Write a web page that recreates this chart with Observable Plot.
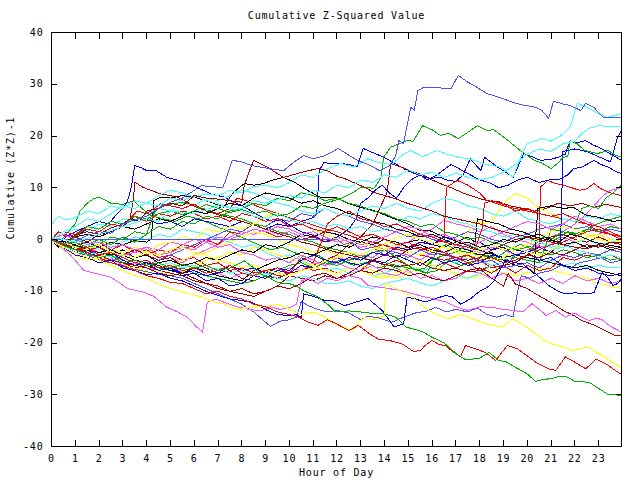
<!DOCTYPE html>
<html>
<head>
<meta charset="utf-8">
<script src="https://cdn.jsdelivr.net/npm/d3@7"></script>
<script src="https://cdn.jsdelivr.net/npm/@observablehq/plot@0.6"></script>
<style>
  html, body { margin: 0; padding: 0; background: #fff; }
  svg { display: block; }
</style>
</head>
<body>
<div id="chart"></div>
<script>
// ---------- text ----------
const chartTitle = "Cumulative Z-Squared Value";
const xLabel = "Hour of Day";
const yLabel = "Cumulative (Z*Z)-1";
const xTicks = [0,1,2,3,4,5,6,7,8,9,10,11,12,13,14,15,16,17,18,19,20,21,22,23];
const yTicks = [-40,-30,-20,-10,0,10,20,30,40];
const xDomain = [0, 23.96];
const yDomain = [-40, 40];

// ---------- series: [hour, cumulative value] ----------
const s01 = [[0,0],[0.5,-0.8],[1,-0.3],[1.5,0.8],[2,1.5],[2.5,1.2],[3,3],[3.5,3.8],[4,4.5],[4.5,6],[5,7.2],[5.5,8],[6,9.5],[6.3,10.4],[6.8,10.2],[7.2,10],[7.4,12.5],[7.6,15.3],[8,15],[8.4,14.3],[8.9,13.9],[9.3,13.6],[9.76,13.3],[10.2,15],[10.6,16.2],[11,15.6],[11.5,16.2],[11.9,17.2],[12.05,17.6],[12.5,16.3],[12.85,15.3],[13.3,14.5],[13.8,13.3],[14.2,14.2],[14.47,16.2],[14.6,19.1],[14.8,18.5],[15.1,25.5],[15.25,25],[15.4,28.8],[15.65,29.4],[16.2,29.3],[16.8,29.2],[17.1,31.7],[17.5,30.4],[17.75,29.8],[18.3,28.2],[18.8,27.5],[19.4,26.5],[19.8,26],[20.3,25.6],[20.6,25],[20.9,23.4],[21.1,26.7],[21.5,26.2],[21.8,25.9],[22.25,24.9],[22.45,26.3],[22.8,25.5],[23.2,23.6],[23.5,23.5],[23.96,23.6]];
const s02 = [[0,3],[0.3,4.5],[0.6,3.8],[1,4.2],[1.5,5.5],[2,5],[2.5,6.5],[3,6],[3.5,7.5],[4,7],[4.5,8.5],[5,9.5],[5.5,9],[6,8.2],[6.5,8.8],[7,8.5],[7.5,9.5],[8,9],[8.5,10.2],[9,10.5],[9.5,10],[10,11],[10.5,12.5],[11,12],[11.5,13.5],[12.15,14.7],[12.7,14],[13.3,15.6],[13.8,14.8],[14.3,14.5],[14.8,16.5],[15.1,17.2],[15.6,16],[16.2,17.2],[16.6,16.5],[17.1,15.9],[17.6,15.5],[18.3,14.5],[18.9,14],[19.4,12],[19.8,16.9],[20,18.5],[20.6,19.5],[21,19],[21.4,20],[21.8,21.7],[22.1,26.3],[22.5,25.6],[22.9,24.5],[23.35,23.6],[23.7,24],[23.96,24.3]];
const s03 = [[0,0.5],[1,-0.5],[2,1],[3,2.5],[4,4],[4.5,3.5],[5,5.5],[6,5],[7,6.5],[8,6],[8.5,7.5],[9,7],[10,8.5],[10.5,8],[11,9.5],[11.5,9],[12,10.5],[12.5,10],[13,11.5],[13.5,11],[14,12.5],[14.5,12],[15,13.5],[15.5,12.5],[16,13],[16.5,12],[17,12.8],[17.5,12],[18,11.5],[18.5,12],[19,13],[19.5,14.5],[20,16.5],[20.5,17.5],[21,17],[21.5,18.5],[22,19],[22.3,20.5],[22.6,21.5],[23,22],[23.5,21.8],[23.96,21.8]];
const s04 = [[0,0],[0.5,-1],[1,0.5],[1.5,2.5],[2,2],[2.5,3.5],[3,3],[3.5,4.5],[4,4],[4.5,5],[5,5.5],[5.5,4.8],[6,5.5],[6.5,6.8],[7,6],[7.5,5.2],[8,5.8],[8.5,5],[9,5.5],[9.5,4.5],[10,5],[10.5,6.5],[11,6],[11.5,7],[12.15,7.9],[12.7,9.1],[13,10.1],[13.55,9.9],[13.7,10.8],[13.85,12],[13.96,15.9],[14.25,17.8],[14.6,18.5],[14.95,19.1],[15.2,19],[15.6,22],[16,21.2],[16.35,20.1],[16.7,20.5],[17.1,19.5],[17.5,20.7],[17.9,22],[18.3,21.1],[18.6,21.2],[19.2,19.1],[19.7,17.2],[20.3,15.3],[20.6,14.8],[21,13.7],[21.3,14.8],[21.5,15.9],[21.7,16],[21.8,19.1],[22.1,18.5],[22.4,17.2],[22.95,16.6],[23.4,17.2],[23.7,16.3],[23.96,15.9]];
const s05 = [[0,0],[0.5,1],[1,0.5],[1.5,2],[2,1.5],[2.5,3],[3,2.5],[3.5,4.5],[4,4],[4.5,3],[5,3.5],[5.5,2.5],[6,4],[6.5,3.5],[7,3],[7.5,2.5],[8,3.5],[8.5,2.8],[9,2],[9.5,3],[10,2.5],[10.5,3.5],[11,4.2],[11.15,5],[11.25,13.3],[11.45,14.9],[11.8,14.6],[12.15,14.7],[12.5,14.5],[12.85,14],[13.1,17.6],[13.5,16.8],[13.96,15.9],[14.4,14.8],[14.95,13.3],[15.4,12.5],[15.9,11.8],[16.35,12],[16.6,11.5],[17,11.2],[17.3,12.5],[17.6,15.6],[18.05,13.3],[18.2,15.9],[18.75,14],[19.1,13],[19.4,12],[19.6,14],[19.85,16.6],[20.2,16],[20.55,15.3],[21,15.5],[21.3,15.9],[21.6,16.5],[21.8,19.1],[22.1,18.7],[22.45,19.1],[22.8,18.2],[23.1,17.6],[23.5,16.5],[23.96,15.3]];
const s06 = [[0,0],[0.3,-1],[0.6,0.5],[1,1.5],[1.5,2.5],[2,3.5],[2.4,3],[2.76,5],[3,6],[3.2,7.5],[3.35,10],[3.5,14.3],[3.8,13.8],[4,13.3],[4.4,13.3],[4.85,12],[5.2,11.6],[5.55,11.1],[6.1,10.1],[6.7,8.8],[7.25,8.2],[7.6,7.3],[8,6.6],[8.5,5.2],[9,4],[9.3,3.5],[9.7,3.8],[10,2.8],[10.5,1.5],[11,0.8],[11.5,-0.5],[12,0.5],[12.5,2],[12.8,4],[13,7],[13.3,8],[13.6,9.5],[13.9,10.5],[14.2,9],[14.5,8],[14.8,10],[15.1,11.5],[15.5,12.5],[15.8,11.5],[16.2,12.5],[16.5,13.5],[16.8,14.5],[17.2,13.5],[17.6,12.5],[18,11.5],[18.4,11],[18.8,10],[19.2,10.5],[19.6,11.5],[20,12],[20.5,11],[20.9,11.5],[21.3,11.5],[21.7,12.5],[21.95,13.7],[22.3,14],[22.8,15.3],[23.1,14.5],[23.4,14],[23.7,13.2],[23.96,12.7]];
const s07 = [[0,0],[0.5,-1.5],[1,-2.5],[1.5,-2],[2,-3.5],[2.5,-3],[3,-4.5],[3.5,-4],[4,-5],[4.5,-4.5],[5,-5.5],[5.5,-6.5],[6,-6],[6.5,-7],[7,-6.5],[7.5,-5],[8,-6],[8.5,-5.5],[9,-6.5],[9.5,-5.5],[10,-6],[10.5,-4],[11,-3],[11.5,-4],[12,-3.5],[12.5,-4.5],[13,-5],[13.5,-4],[14,-4.5],[14.5,-3],[15,-4],[15.5,-5],[16,-3.5],[16.5,-4.5],[17,-4],[17.5,-5],[18,-4.5],[18.5,-3],[19,-3.5],[19.5,-2],[20,-2.5],[20.5,-1.5],[21,-2.5],[21.4,-0.5],[21.5,17],[22,17.5],[22.5,17],[23,16],[23.5,15],[23.8,19.8],[23.96,21]];
const s08 = [[0,0],[0.5,-1],[1,0.8],[1.5,1.5],[2,1],[2.5,2.2],[3,3],[3.3,4],[3.7,3.5],[4,5.5],[4.5,6],[5,7],[5.5,6.5],[6,8.5],[6.5,8],[7,7.8],[7.5,7.5],[8,7.2],[8.1,10.4],[8.3,13],[8.5,15.3],[8.8,14.6],[9.07,14],[9.4,13],[9.76,12],[10.3,12.7],[10.7,13.2],[11.2,13.7],[11.6,13.3],[12,12.2],[12.3,11.8],[12.8,10.8],[13.2,10],[13.55,9.1],[14,8.5],[14.5,7.8],[14.95,7],[15.5,6.2],[16,5.5],[16.5,4.5],[17,4],[17.5,3.5],[18,3],[18.5,2.2],[19,1.5],[19.5,1],[20,0.5],[20.5,0],[21,-0.5],[21.5,-1],[22,-1.5],[22.5,-1.8],[23,-1],[23.5,-1.5],[23.96,-2]];
const s09 = [[0,0],[0.5,-0.5],[1,0.5],[1.5,-0.5],[2,1],[2.5,1.5],[3,2.5],[3.3,4],[3.45,8],[3.5,11.1],[3.8,10.2],[4,9.8],[4.6,8.8],[5.3,8.2],[5.7,7.2],[6.1,6.2],[6.5,5.5],[7,4.8],[7.5,4.2],[8,3.5],[8.5,2.8],[9,2],[9.5,1.2],[10,0.5],[10.5,-0.5],[11,-1],[11.5,-1.8],[12,-2.5],[12.5,-3],[13,-3.5],[13.5,-4.2],[14,-4.8],[14.5,-5.2],[15,-5],[15.5,-4.5],[16,-5.5],[16.5,-6],[17,-5.5],[17.5,-6.2],[18.1,-6],[18.5,-7.5],[19,-9],[19.2,-6.6],[19.5,-8.6],[20,-9.5],[20.35,-10.5],[21,-12.2],[21.5,-13.7],[22,-14.8],[22.3,-15.7],[22.8,-16.5],[23.15,-17.3],[23.7,-18.6],[23.96,-18.6]];
const s10 = [[0,0],[0.5,-1.2],[1,-2],[1.5,-2.8],[2,-3.5],[2.5,-3],[3,-4.5],[3.5,-4],[4,-5],[4.5,-4.5],[5,-5.5],[5.5,-4.8],[6,-5.5],[6.5,-5],[7,-6],[7.5,-5.5],[8.1,-4.1],[8.5,-5.5],[8.77,-6.6],[9.2,-7.5],[9.5,-8.3],[9.8,-8.5],[10.05,-8.6],[10.3,-9],[10.6,-9.9],[11.2,-11.1],[11.6,-12.5],[11.94,-14],[12.5,-13.8],[13,-14],[13.5,-14.3],[14,-14.4],[14.47,-15],[14.9,-16.9],[15.2,-17.3],[15.6,-17.8],[16,-18.9],[16.5,-20],[17.1,-22.4],[17.4,-23.2],[17.97,-23],[18.4,-21.8],[18.8,-23.4],[19.1,-23.6],[19.5,-24.7],[20,-26],[20.35,-27.4],[20.7,-27],[21.05,-26.9],[21.3,-26.5],[21.6,-26.4],[22,-27.4],[22.6,-27.6],[22.9,-28.5],[23.15,-29.2],[23.4,-30],[23.7,-30],[23.96,-30.2]];
const s11 = [[0,0],[0.5,-1],[1,-2],[1.5,-2.5],[2,-3.5],[2.5,-4.5],[3,-5],[3.5,-6],[4,-7],[4.5,-7.5],[5,-8.3],[5.5,-8.5],[6,-9.5],[6.5,-10.5],[7,-10],[7.5,-11],[8,-11.5],[8.5,-12.5],[9,-13],[9.5,-14],[10,-14.5],[10.4,-15],[10.8,-16],[11.2,-16.6],[11.6,-15.5],[11.94,-16.2],[12.5,-17.6],[12.9,-16.6],[13.3,-18],[13.75,-19.3],[14.2,-19.5],[14.75,-20.2],[15.2,-21.6],[15.5,-21.5],[15.7,-20.5],[16,-19.5],[16.3,-20.3],[16.57,-20.5],[16.9,-21.8],[17.2,-22.6],[17.4,-20.5],[17.96,-21.3],[18.3,-22],[18.67,-23.4],[18.9,-22],[19.16,-20.5],[19.58,-21.1],[20,-22.5],[20.35,-23.7],[20.9,-25],[21.2,-25.3],[21.6,-22.7],[22,-23.7],[22.46,-25],[22.88,-23.1],[23.4,-24.3],[23.7,-25.3],[23.96,-26.1]];
const s12 = [[0,0],[0.5,-1.5],[1,-2.5],[1.5,-3.5],[2,-4],[2.5,-5],[3,-6],[3.5,-7],[4,-7.5],[4.2,-7.9],[4.7,-9],[5.3,-9.9],[5.8,-10.5],[6.3,-11.1],[6.8,-12],[7.3,-12.5],[7.8,-13.5],[8.4,-13.1],[9,-13],[9.5,-12.5],[10,-13.5],[10.5,-14.5],[11,-14],[11.5,-15],[12,-16.5],[12.65,-17.6],[12.9,-16],[13.2,-15],[13.6,-15.5],[14,-14.7],[14.05,-8.5],[14.5,-9.5],[15.2,-11.1],[15.5,-12.5],[15.85,-13.7],[16.2,-14.5],[16.7,-15.3],[17.2,-14.5],[17.8,-15.5],[18.4,-16.5],[18.95,-16.9],[19.4,-15.3],[20,-17],[20.35,-18.2],[20.7,-19.5],[21.05,-20.2],[21.5,-20.8],[21.9,-21.5],[22.3,-21],[22.6,-20.8],[22.9,-21.8],[23.15,-22.4],[23.5,-23.5],[23.96,-24.8]];
const s13 = [[0,0],[0.4,-1.5],[0.8,-3],[1.36,-6],[1.8,-6.5],[2.5,-7.3],[2.9,-8.5],[3.2,-9.5],[3.9,-10.2],[4.3,-11],[4.85,-13.1],[5.3,-14],[5.7,-15],[6.1,-16.9],[6.35,-17.9],[6.55,-12.1],[6.9,-11.5],[7.3,-12.2],[7.8,-13],[8.3,-13.5],[8.8,-13.8],[9.2,-13],[9.6,-13.5],[10,-13.2],[10.3,-12.5],[10.5,-8],[10.8,-7.5],[11.2,-8.5],[11.6,-7.5],[12,-8],[12.5,-7],[13,-7.5],[13.3,-8.9],[13.75,-9.2],[14.2,-9.5],[14.75,-9.9],[15.2,-10.5],[15.7,-11.1],[16.1,-11.5],[16.6,-12.1],[17,-13],[17.5,-13.7],[18,-13],[18.5,-13.1],[19,-13.5],[19.4,-13.7],[19.8,-14],[20.2,-12.4],[20.5,-13.5],[20.8,-14.7],[21.2,-13.7],[21.6,-15],[22,-14.2],[22.3,-15],[22.6,-15.7],[22.9,-15.2],[23.15,-15.5],[23.5,-16.8],[23.96,-17.9]];
const s14 = [[0,0],[0.5,-1.5],[1,-3],[1.5,-3.5],[2,-4.5],[2.5,-4],[3,-5.5],[3.5,-6],[4,-6.8],[4.5,-6.5],[5,-7.5],[5.5,-8],[6,-9],[6.5,-10],[7,-10.8],[7.5,-11.5],[8,-11.8],[8.4,-12.1],[9.07,-13.7],[9.5,-14.5],[10.05,-14.7],[10.3,-14.5],[10.5,-15],[10.6,-10.5],[11,-11],[11.5,-11.8],[11.94,-11.9],[12.3,-12.8],[12.8,-12.1],[13.3,-11.4],[13.9,-13.7],[14.4,-16.9],[14.8,-16.3],[14.95,-11.1],[15.3,-11.5],[15.7,-12.1],[16.15,-11.4],[16.57,-10.8],[16.85,-11.1],[17.2,-12.5],[17.6,-11.5],[18,-10],[18.4,-9],[18.6,-8],[18.9,-5.5],[19.1,-4],[19.5,-4.5],[19.8,-4.7],[20.1,-5.8],[20.35,-6.6],[20.9,-8.9],[21.3,-10],[21.6,-10.5],[22,-10.3],[22.4,-10.5],[22.8,-10.3],[23,-8],[23.15,-6.3],[23.4,-7.5],[23.6,-8.9],[23.8,-8.5],[23.96,-7.6]];
const s15 = [[0,0],[0.5,-1.5],[1,-2.5],[1.5,-3],[2,-4],[2.5,-4.5],[3,-5.2],[3.5,-5.8],[4,-6.2],[4.5,-6.8],[5,-7],[5.5,-7.5],[6,-8.5],[6.5,-9.5],[7,-10.5],[7.5,-11.5],[8,-12.5],[8.5,-14],[9.2,-16.8],[9.6,-15.8],[10,-15.5],[10.3,-15],[10.5,-12],[10.8,-12.8],[11.2,-13.5],[11.6,-14],[12,-13.7],[12.5,-14.2],[13,-15.5],[13.3,-14.8],[13.8,-15.2],[14.3,-16],[14.8,-15],[15.3,-14.2],[15.8,-13.8],[16.15,-13.1],[16.6,-14],[17,-13.5],[17.5,-14],[17.9,-13.2],[18.3,-14.5],[18.7,-15],[19.1,-14.5],[19.4,-15],[19.6,-9.9],[19.75,-7],[20.1,-7.5],[20.5,-6.5],[21,-6],[21.4,-5],[21.8,-5.5],[22.2,-4.5],[22.7,-4],[23.1,-3.5],[23.5,-4.5],[23.96,-4]];
const s16 = [[0,0],[12,0],[12.3,-1],[12.6,-0.5],[13,-2],[13.5,-1.5],[14,-3],[14.5,-2.5],[15,-3.5],[15.5,-2],[16,-3],[16.5,-2.5],[17,-4],[17.5,-3],[18,-4.5],[18.5,-4],[19,-5.5],[19.5,-5],[20,-4.5],[20.5,-5.5],[21,-4],[21.5,-3],[22,-3.5],[22.5,-2.5],[23,-3],[23.5,-2],[23.96,-2.5]];
const s17 = [[0,0],[0.5,1],[1,0.5],[1.5,-1],[2,-0.5],[2.5,-2],[3,-1],[3.5,-2.5],[4,-2],[4.5,-3.5],[5,-3],[5.5,-4],[6,-3.5],[6.5,-5],[7,-4.5],[7.5,-6],[8,-5.5],[8.5,-6.5],[9,-6],[9.5,-7],[10,-6.5],[10.5,-5],[11,-6],[11.5,-5.5],[12,-6.5],[12.5,-5.5],[13,-6],[13.5,-4],[14,-5],[14.5,-4],[15,-5],[15.5,-4.5],[16,-5.5],[16.5,-4.5],[17,-5.5],[17.5,-4.5],[18,-6],[18.5,-5],[19,-5.5],[19.5,-3],[20,-2],[20.5,-1.5],[20.55,10.1],[20.85,11.4],[21.2,10.8],[21.5,10.5],[21.8,10.1],[22.2,9.5],[22.5,9.8],[22.8,10.8],[23.1,9.8],[23.5,9],[23.96,8.5]];
const s18 = [[0,0],[0.5,-1],[1,-0.5],[1.5,-2],[2,-1.5],[2.5,-3],[3,-2],[3.5,-3.5],[4,-3],[4.5,-2],[5,-2.5],[5.5,-1],[6,-1.5],[6.5,0],[7,-1],[7.5,1.5],[8,1],[8.5,2],[9,1.5],[9.5,0.5],[10,1],[10.5,0],[11,0.5],[11.5,-0.5],[12,0],[12.5,-1],[13,-0.5],[13.5,-1.5],[14,-1],[14.5,-2],[15,-1.5],[15.5,-0.5],[16,-1],[16.5,0],[16.6,10.1],[17.06,11.4],[17.5,10.5],[18,9],[18.3,7.5],[18.7,7],[19,6.5],[19.5,6],[20,5.5],[20.5,5],[21,4.5],[21.5,4],[22,3.5],[22.5,3],[23,1.5],[23.5,1],[23.96,0]];
const s19 = [[0,0],[0.3,1.5],[0.6,0.5],[1,1],[1.5,2],[2,1.5],[2.5,3],[3,2.5],[3.3,4],[3.6,5.5],[4,5],[4.6,6.9],[5,6.5],[5.5,6],[6,6.8],[6.5,5.5],[7,5],[7.5,6],[7.8,8],[8.2,7.5],[8.6,6.5],[9,5.8],[9.5,5],[10,4.2],[10.5,3.5],[11,2.8],[11.5,2],[12,1.5],[12.5,0.8],[13,0],[13.5,-0.5],[14,-1.2],[14.5,-1.8],[15,-2.5],[15.5,-3],[16,-3.5],[16.5,-4],[17,-3.5],[17.5,-4.5],[18,-4],[18.5,-5.5],[19,-5],[19.5,-6.5],[20,-5],[20.5,-6],[21,-5.5],[21.5,-3.5],[22,-4],[22.5,-3],[23,-3.5],[23.5,-3],[23.96,-4]];
const s20 = [[0,0],[0.5,-1],[1,-2],[1.5,-1.5],[2,-3],[2.5,-2.5],[3,-3.5],[3.5,-4.5],[4,-4],[4.5,-5.5],[5,-5],[5.5,-6],[6,-5.5],[6.5,-6.5],[7,-6],[7.5,-5],[8,-6.5],[8.5,-7],[9,-6],[9.5,-5.5],[10,-6.5],[10.5,-3.5],[11,-4.5],[11.3,-1],[11.6,3],[12,4.5],[12.5,5.5],[13,4],[13.5,3.5],[14,2.5],[14.5,3],[15,2],[15.5,1],[16,0.5],[16.5,-0.5],[17,-1],[17.5,-1.5],[17.8,-2],[18.1,2],[18.2,7],[18.5,7.5],[19,6.8],[19.5,5.5],[20,6],[20.5,5],[21,4.5],[21.5,5],[22,4],[22.5,3],[23,2.5],[23.5,1.5],[23.96,0.5]];
const s21 = [[0,0],[0.3,-1],[0.6,1],[1,3],[1.2,5.5],[1.5,7],[1.77,7.9],[2,8.2],[2.5,7],[3,6.8],[3.45,7.5],[3.8,6],[4.2,4.6],[4.7,4],[5.2,3.5],[5.7,4.5],[6.2,4],[6.7,3],[7.2,2],[7.7,1],[8.2,0],[8.7,-1],[9.2,-2],[9.7,-1.5],[10.2,-2.5],[10.7,-3.5],[11.2,-3],[11.7,-4.5],[12.2,-4],[12.7,-5],[13.2,-4.5],[13.7,-5.5],[14.2,-5],[14.7,-6],[15.2,-5.5],[15.7,-6.5],[16.2,-6],[16.7,-4],[17.2,-5],[17.7,-4.5],[18.2,-3],[18.7,-3.5],[19.2,-2],[19.7,-1],[20.2,-1.5],[20.7,0.5],[21.2,0],[21.7,1.5],[22.2,1],[22.7,2.5],[23.2,3.5],[23.6,4],[23.96,4.5]];
const s22 = [[0,0],[0.5,-0.5],[1,0.5],[1.5,-1],[2,0],[2.5,-1],[3,0.5],[3.5,-0.5],[4,1],[4.3,5],[4.6,6.5],[5,6.8],[5.5,7.2],[6,6.5],[6.5,5.8],[7,5],[7.5,4.5],[8,4],[8.5,3],[9,2.5],[9.5,1.5],[10,1],[10.5,0],[11,-0.5],[11.5,-1.5],[12,-2],[12.5,-2.5],[13,-3.5],[13.5,-4],[14,-4.5],[14.5,-5],[15,-5.5],[15.5,-6],[15.8,-6.5],[16,-4],[16.3,-1.5],[16.6,-1],[17,-2],[17.5,-2.5],[18,-3],[18.5,-3.5],[19,-4],[19.5,-3.5],[20,-4],[20.5,-4.5],[20.8,-1],[21,2],[21.5,1.5],[22,3],[22.3,6],[22.6,6.5],[23,6],[23.3,8],[23.6,9],[23.96,10.5]];
const s23 = [[0,0],[0.5,-1],[1,-1.5],[1.5,-2],[2,-1.5],[2.5,-3],[3,-2.5],[3.5,-3.5],[4,-3],[4.5,-4],[5,-3.5],[5.5,-4.5],[6,-3],[6.5,-2],[7,-1],[7.5,0.5],[8,1.5],[8.5,1],[9,2],[9.5,1],[10,1.5],[10.5,0.5],[11,1],[11.5,-0.5],[12,0.5],[12.5,-0.5],[13,-1.5],[13.5,-1],[14,-2],[14.5,-1.5],[15,-0.5],[15.5,1],[16,2],[16.5,3.7],[17,3],[17.5,2.5],[18,1.5],[18.5,2.5],[19,1],[19.5,0],[20,-0.5],[20.5,-1.5],[21,-1],[21.5,0.5],[22,-0.5],[22.5,0.5],[23,1],[23.5,2],[23.96,1.5]];
const s24 = [[0,0],[0.5,-1.5],[1,-2.5],[1.5,-3],[2,-4],[2.5,-3.5],[3,-5],[3.5,-4.5],[4,-5.5],[4.5,-6],[5,-5],[5.5,-6.5],[6,-6],[6.5,-7],[7,-6.5],[7.5,-7.5],[8,-6.5],[8.5,-7],[9,-6],[9.5,-6.5],[10,-5.5],[10.5,-6],[11,-4.5],[11.5,-5],[12,-3.5],[12.5,-4],[13,-3],[13.5,-3.5],[14,-2],[14.5,-2.5],[15,-3],[15.5,-4],[16,-2.5],[16.5,-3],[17,-1],[17.5,-2],[18,-2.5],[18.5,-1.5],[19,-2],[19.5,-3],[20,-2],[20.5,-1],[21,0.5],[21.5,1.5],[22,3],[22.5,5],[22.8,6.5],[23.2,8.5],[23.5,9.5],[23.96,10]];
const s25 = [[0,0],[0.5,-1],[1,-2],[1.5,-1.5],[2,-2.5],[2.5,-2],[3,-3],[3.5,-2.5],[4,-1.5],[4.5,-2],[5,-0.5],[5.5,-1],[6,0],[6.5,-0.5],[7,-1.5],[7.5,-1],[8,-2.5],[8.5,-3],[9,-4],[9.5,-3.5],[10,-4.5],[10.5,-3],[11,-4],[11.5,-5],[12,-4.5],[12.5,-5.5],[13,-6],[13.5,-5],[14,-6.5],[14.5,-7],[15,-6],[15.5,-7.5],[16,-7],[16.5,-8],[17,-7.5],[17.5,-6],[18,-6.5],[18.5,-7.5],[19,-6.5],[19.5,-8],[20,-7.5],[20.5,-8.5],[21,-7.5],[21.5,-8.5],[22,-7],[22.5,-8],[23,-7.5],[23.5,-8.5],[23.96,-8]];
const s26 = [[0,0],[0.5,-0.5],[1,-1.5],[1.5,-1],[2,-2],[2.5,-1.5],[3,-0.5],[3.5,0.5],[4,0],[4.5,1],[5,0.5],[5.5,2],[6,1.5],[6.5,1],[7,0],[7.5,-0.5],[8,-1.5],[8.5,-1],[9,-2.5],[9.5,-3.5],[10,-3],[10.5,-4],[11,-5],[11.5,-6],[12,-5.5],[12.5,-6.5],[13,-6],[13.5,-7],[14,-6.5],[14.5,-5.5],[15,-5],[15.5,-6],[16,-5.5],[16.5,-4],[17,-4.5],[17.5,-3.5],[18,-4],[18.5,-5],[19,-4.5],[19.5,-3],[20,-3.5],[20.5,-4.5],[21,-4],[21.5,-5],[22,-4.5],[22.5,-5.5],[23,-5],[23.5,-5.5],[23.96,-5.3]];
const s27 = [[0,0],[0.5,1],[1,2],[1.5,1.5],[2,3],[2.5,2.5],[3,4],[3.5,3.5],[4,5],[4.5,6],[5,5.5],[5.5,7],[6,6.5],[6.5,8],[7,7.5],[7.5,8.5],[8,9.5],[8.5,9],[9,8],[9.5,7],[10,6.5],[10.5,5.5],[11,5],[11.5,6],[12,5],[12.5,4.5],[13,5.5],[13.5,6.5],[14,6],[14.5,7],[15,6],[15.5,5.5],[16,7],[16.5,8],[17,7.5],[17.5,6.5],[18,6],[18.5,5],[19,4.5],[19.5,5.5],[20,4],[20.5,3.5],[21,3],[21.5,4],[22,3.5],[22.5,4.5],[23,4],[23.5,5],[23.96,4.5]];
const s28 = [[0,0],[0.5,-1.5],[1,-2],[1.5,-3],[2,-2.5],[2.5,-3.5],[3,-3],[3.5,-4],[4,-4.5],[4.5,-5],[5,-4.5],[5.5,-5.5],[6,-5],[6.5,-6],[7,-5.5],[7.5,-6.5],[8,-6],[8.5,-7],[9,-6.5],[9.5,-7.5],[10,-8],[10.5,-7],[11,-7.5],[11.5,-8.5],[12,-8.5],[12.5,-8],[13,-9],[13.5,-9.5],[14,-8.5],[14.5,-8],[15,-7.5],[15.2,-7.9],[15.6,-8.5],[16,-9],[16.5,-8],[17,-7],[17.5,-7.5],[18,-6.5],[18.5,-5],[19,-4.5],[19.5,-3],[20,-2.5],[20.5,-3],[21,-2],[21.5,-1.5],[22,-0.5],[22.5,0],[23,-1],[23.5,-0.5],[23.96,0]];
const s29 = [[0,0],[0.5,-1],[1,-0.5],[1.5,-2],[2,-1.5],[2.5,-2.5],[3,-3],[3.5,-2],[4,-3],[4.5,-4],[5,-3.5],[5.5,-5],[6,-4.5],[6.5,-5.5],[7,-6.5],[7.5,-6],[8,-7.5],[8.5,-8],[9,-7],[9.5,-7.5],[10,-6.5],[10.5,-6],[11,-5],[11.5,-4],[12,-3],[12.5,-1],[13,0.5],[13.5,3],[13.8,6],[14.1,9],[14.26,14.7],[14.7,14],[15.1,13.2],[15.6,12.5],[16,11.5],[16.35,10.8],[16.8,10],[17.3,9],[17.8,8.2],[18.3,7.5],[18.8,7.3],[19.3,6.5],[19.8,6],[20.3,5.5],[20.8,6],[21.3,7],[21.8,6.5],[22.3,7],[22.8,6.2],[23.3,6.8],[23.96,6.2]];
const s30 = [[0,0],[0.5,-1.5],[1,-2.5],[1.5,-3.5],[2,-3],[2.5,-4],[3,-4.5],[3.5,-5.5],[4,-5],[4.5,-6],[5,-6.5],[5.5,-7],[6,-8],[6.5,-8.5],[7,-9.5],[7.5,-10],[8,-10.5],[8.5,-11],[9,-10],[9.5,-9],[10,-7],[10.5,-7.5],[11,-8],[11.5,-7],[12,-7.5],[12.5,-6.5],[13,-5],[13.5,-4],[14,-3],[14.5,-3.5],[15,-2],[15.5,-1.5],[16,-2.5],[16.5,-3],[17,-3.5],[17.5,-4],[18,-3.5],[18.5,-2],[19,-1],[19.5,0],[20,0.5],[20.5,-0.5],[21,0.5],[21.5,1],[22,0],[22.5,-0.5],[23,0.5],[23.5,-0.5],[23.96,-0.5]];
const s31 = [[0,0],[0.5,-1],[1,-2],[1.5,-2.5],[2,-3.5],[2.5,-4],[3,-4.5],[3.5,-5.5],[4,-6],[4.5,-5],[5,-5.5],[5.5,-4],[6,-3],[6.5,-2.5],[7,-1.5],[7.5,-0.5],[8,0.5],[8.5,1.5],[9,1],[9.5,0],[10,-1],[10.5,-1.5],[11,-2.5],[11.5,-2],[12,-3],[12.5,-4],[13,-5],[13.5,-6],[14,-7],[14.5,-7.5],[15,-6.5],[15.5,-5],[16,-4],[16.5,-3],[17,-1],[17.5,1],[17.8,3.5],[18.2,3],[18.6,4],[19,7],[19.5,8.9],[20,8],[20.5,6],[21,5],[21.5,4],[22,3.5],[22.5,4.5],[23,4],[23.5,5],[23.96,4.5]];
const s32 = [[0,0],[0.5,-1.5],[1,-2.5],[1.5,-3],[2,-3.5],[2.5,-4.5],[3,-5],[3.5,-5.5],[4,-6.5],[4.5,-6],[5,-7],[5.5,-6.5],[6,-5],[6.5,-4],[7,-3.5],[7.5,-2.5],[8,-3],[8.5,-1.5],[9,-2],[9.5,-3],[10,-3.5],[10.5,-4.5],[11,-5],[11.5,-6],[12,-6.5],[12.5,-5.5],[13,-6],[13.5,-7],[14,-7.5],[14.5,-6.5],[15,-5.5],[15.5,-4],[16,-5],[16.5,-6],[17,-6.5],[17.5,-7.5],[18,-7],[18.5,-6],[19,-6.5],[19.5,-7],[20,-6.5],[20.5,-5.5],[21,-6],[21.5,-6.5],[22,-7],[22.5,-7.5],[23,-8.5],[23.5,-9],[23.96,-9.5]];
const s33 = [[0,0],[0.5,-2],[1,-3],[1.5,-4],[2,-3.5],[2.5,-2],[3,-2.5],[3.5,-1.5],[4,-2.5],[4.5,-1],[5,-0.5],[5.5,0.5],[6,0],[6.5,2],[7,1.5],[7.5,2.5],[8,2],[8.5,3],[9,4.5],[9.5,5],[10,4],[10.5,3],[11,2],[11.5,1],[12,0],[12.5,-1],[13,-0.5],[13.5,-1.5],[14,-2],[14.5,-1],[15,-2.5],[15.5,-3],[16,-2],[16.5,-1.5],[17,-2.5],[17.5,-3.5],[18,-3],[18.5,-4],[19,-3.5],[19.5,-2],[20,-1],[20.5,0.5],[21,1.5],[21.5,2.5],[22,2],[22.5,1],[23,0],[23.5,-0.5],[23.96,-1]];
const s34 = [[0,0],[0.5,-1],[1,-1.2],[1.5,-0.5],[2,-1.5],[2.5,-0.5],[3,-1],[3.5,-0.2],[4,-0.5],[4.2,0.2],[4.3,7.5],[4.6,8.2],[5,8],[5.5,8.5],[6,8.2],[6.7,7.2],[7.25,6.2],[7.6,8.9],[8.1,10.8],[8.5,10.5],[8.9,10.8],[9.3,11.5],[9.76,12],[10.2,11.1],[10.75,9.5],[11.3,8.2],[11.9,8.2],[12.45,7],[13,6.2],[13.55,5.6],[14.25,4.3],[14.95,3.1],[15.5,1.7],[15.9,1.7],[16.35,0.8],[16.8,0],[17.3,-0.8],[18,-2.1],[18.5,-2.8],[19,-3.5],[19.5,-3],[20,-3.5],[20.5,-4],[21,-4.5],[21.5,-5],[22,-5.5],[22.5,-5],[23,-6],[23.5,-6.5],[23.96,-7]];
const s35 = [[0,0],[0.3,-1.5],[0.6,-1],[1,-2],[1.5,-1.5],[2,-2.5],[2.5,-3],[3,-2],[3.5,-3.5],[4,-3],[4.5,-4.5],[5,-4],[5.5,-5],[6,-4.5],[6.5,-3.5],[7,-4],[7.5,-3],[8,-2],[8.5,-2.5],[9,-1],[9.5,-1.5],[10,-0.5],[10.5,1],[11,0.5],[11.5,1.5],[12,1],[12.5,0],[13,-0.5],[13.5,-1],[14,0],[14.5,-0.5],[15,-1.5],[15.5,-1],[16,-2],[16.5,-2.5],[17,-1.5],[17.5,-2],[18,-3],[18.5,-2.5],[19,-4],[19.5,-5],[20,-5.5],[20.3,-6.6],[20.35,0.5],[20.45,6],[21,6.5],[21.5,6],[21.95,6.2],[22.5,4.6],[22.8,4.5],[23.2,4],[23.6,3.5],[23.96,3.7]];
const s36 = [[0,0],[0.5,-0.5],[1,-1],[1.5,-2],[2,-2.5],[2.5,-2],[3,-3],[3.5,-4],[4,-4.5],[4.5,-5],[5,-6],[5.5,-6.5],[6,-5.5],[6.5,-6],[7,-7],[7.5,-7.5],[8,-8],[8.5,-6],[9,-5],[9.5,-4],[10,-3.5],[10.5,-2.5],[11,-3],[11.5,-2],[12,-1],[12.5,-1.5],[13,-0.5],[13.5,0.5],[14,0],[14.5,-1],[15,-0.5],[15.5,0],[16,-1],[16.5,-1.5],[17,-0.5],[17.5,0.5],[17.8,-0.5],[17.9,4],[18.3,3.5],[18.8,3],[19.3,2],[19.8,1.5],[20.3,0.5],[20.8,0],[21.3,-0.5],[21.8,1],[22.3,0.5],[22.8,-0.5],[23.3,-1],[23.96,-1.5]];
const s37 = [[0,0],[0.5,-1],[1,-2.5],[1.5,-2],[2,-3],[2.5,-4],[3,-3.5],[3.5,-4.5],[4,-5],[4.5,-4],[5,-3],[5.5,-2],[6,-1],[6.5,0],[7,1],[7.5,2],[8,1.5],[8.5,3],[9,2.5],[9.5,4],[10,3.5],[10.5,5],[11,4.5],[11.5,6],[12,5],[12.5,4.5],[13,3.5],[13.5,3],[14,2],[14.5,1.5],[15,0.5],[15.5,1],[16,0],[16.5,-0.5],[17,0.5],[17.5,1.5],[18,1],[18.5,0],[19,-0.5],[19.5,0.5],[20,1],[20.5,2],[21,2.5],[21.5,3],[22,2],[22.5,2.5],[23,1.5],[23.5,2],[23.96,1.5]];
const s38 = [[0,0],[0.5,-1.5],[1,-1],[1.5,-2.5],[2,-3.5],[2.5,-3],[3,-4],[3.5,-5],[4,-4.5],[4.5,-5.5],[5,-6],[5.5,-5.5],[6,-6.5],[6.5,-7],[7,-7.5],[7.5,-8],[8,-8.5],[8.5,-8],[9,-7],[9.5,-6],[10,-5],[10.5,-4.5],[11,-5.5],[11.5,-4.5],[12,-5],[12.5,-4],[13,-3.5],[13.5,-2.5],[14,-2],[14.5,-3.5],[15,-5],[15.3,-6],[15.7,-5.5],[16,-4],[16.5,-3],[17,-2.5],[17.5,-1],[18,-2],[18.5,-1],[19,0],[19.5,-0.5],[20,0.5],[20.5,1],[21,0],[21.5,1.5],[22,1],[22.5,2],[23,1.5],[23.5,2.5],[23.96,2]];
const s39 = [[0,0],[0.5,1.5],[1,1],[1.5,2.5],[2,2],[2.5,3.5],[3,3],[3.5,4.5],[4,3.5],[4.5,5],[5,4.5],[5.5,5.5],[6,5],[6.5,4],[7,4.5],[7.5,3.5],[8,5],[8.5,4.5],[9,3.5],[9.5,4],[10,2.5],[10.5,3],[11,2],[11.5,1.5],[12,2.5],[12.5,1.5],[13,0.5],[13.5,1],[14,0],[14.5,-1],[15,-0.5],[15.5,-2],[16,-1.5],[16.5,-2.5],[17,-3.5],[17.5,-3],[18,-4],[18.5,-3.5],[19,-4.5],[19.5,-4],[20,-3],[20.5,-2],[21,-1],[21.5,-0.5],[22,0.5],[22.5,1.5],[23,2],[23.5,1],[23.96,0.5]];
const s40 = [[0,0],[0.5,-1],[1,-0.5],[1.5,-1.5],[2,-1],[2.5,0.5],[3,0],[3.5,1.5],[4,1],[4.5,2.5],[5,2],[5.5,3.5],[6,3],[6.5,4.5],[7,4],[7.5,5.5],[8,6],[8.5,7],[9,6.5],[9.5,8],[10,7.5],[10.5,9],[11,8.5],[11.5,7.5],[12,8],[12.5,7],[13,6.5],[13.5,5.5],[14,5],[14.5,4],[15,3.5],[15.5,2.5],[16,3],[16.5,1.5],[17,1],[17.5,0],[18,0.5],[18.5,-0.5],[19,-1],[19.5,-2],[20,-1.5],[20.5,-2.5],[21,-3],[21.5,-2],[22,-2.5],[22.5,-3.5],[23,-3],[23.5,-4],[23.96,-3.5]];
const s41 = [[0,0],[0.5,-1],[1,-2],[1.5,-1.5],[2,-3],[2.5,-2.5],[3,-4],[3.5,-5],[4,-4.5],[4.5,-6],[5,-5.5],[5.5,-7],[6,-6.5],[6.5,-8],[7,-7.5],[7.5,-9],[8,-8.5],[8.5,-7],[9,-7.5],[9.5,-6],[10,-6.5],[10.5,-5],[11,-5.5],[11.5,-4],[12,-4.5],[12.5,-3.5],[13,-4],[13.5,-2.5],[14,-3],[14.5,-1.5],[15,-2],[15.5,-0.5],[16,-1],[16.5,0.5],[17,0],[17.5,-1],[18,-0.5],[18.5,-2],[19,-1.5],[19.5,-3],[20,-2.5],[20.5,-4],[21,-3.5],[21.5,-5],[22,-6],[22.5,-5.5],[23,-6.5],[23.5,-7],[23.96,-6.5]];
const s42 = [[0,0],[0.5,1],[1,0],[1.5,-1],[2,-0.5],[2.5,-1.5],[3,-1],[3.5,-2],[4,-1.5],[4.5,-3],[5,-2.5],[5.5,-1.5],[6,-2],[6.5,-0.5],[7,0.5],[7.5,0],[8,1],[8.5,2],[9,1.5],[9.5,2.5],[10,2],[10.5,1],[11,1.5],[11.5,0.5],[12,-0.5],[12.5,0],[13,-1],[13.5,-0.5],[14,0.5],[14.5,1.5],[15,2.5],[15.5,2],[16,0.5],[16.5,1],[17,0],[17.5,-1],[18,-0.5],[18.5,0.5],[19,1.5],[19.5,2.5],[20,3.5],[20.5,3],[21,2],[21.5,3],[22,4.5],[22.5,3.5],[23,2.5],[23.5,3],[23.96,2]];
const s43 = [[0,0],[0.5,1.5],[1,2.5],[1.5,4],[2,3.5],[2.5,5],[3,6.5],[3.5,6],[4,7],[4.5,6.5],[5,8],[5.5,7.5],[6,8.5],[6.5,7.5],[7,7],[7.5,6],[8,5.5],[8.5,4.5],[9,4],[9.5,5],[10,4],[10.5,3],[11,3.5],[11.5,2.5],[12,3],[12.5,2],[13,2.5],[13.5,1.5],[14,2],[14.5,3],[15,4.5],[15.5,4],[16,5],[16.5,4.5],[17,3.5],[17.5,3],[18,2],[18.5,1.5],[19,0.5],[19.5,1],[20,0],[20.5,-0.5],[21,-1.5],[21.5,-1],[22,-2],[22.5,-2.5],[23,-3.5],[23.5,-3],[23.96,-3.5]];
const s44 = [[0,0],[0.5,-1],[1,-1.5],[1.5,-2.5],[2,-3.5],[2.5,-3],[3,-4.5],[3.5,-5],[4,-5.5],[4.5,-6.5],[5,-7],[5.5,-6.5],[6,-7.5],[6.5,-8.5],[7,-9],[7.5,-10],[8,-9.5],[8.5,-10.5],[9,-10],[9.5,-9],[10,-9.5],[10.5,-8.5],[11,-7],[11.5,-6.5],[12,-7.5],[12.5,-7],[13,-6],[13.5,-6.5],[14,-5.5],[14.5,-6],[15,-7],[15.5,-6.5],[16,-7.5],[16.5,-8],[17,-7],[17.5,-6],[18,-5.5],[18.5,-6.5],[19,-5],[19.5,-4.5],[20,-3],[20.5,-3.5],[21,-2.5],[21.5,-3],[22,-2],[22.5,-1],[23,-1.5],[23.5,-0.5],[23.96,-1]];
const s45 = [[0,0],[0.5,-0.5],[1,-1.5],[1.5,-2],[2,-1],[2.5,-2.5],[3,-3],[3.5,-3.5],[4,-2.5],[4.5,-3],[5,-2],[5.5,-1.5],[6,-2.5],[6.5,-3],[7,-4],[7.5,-4.5],[8,-5.5],[8.5,-5],[9,-6],[9.5,-6.5],[10,-7],[10.5,-6],[11,-5.5],[11.5,-4],[12,-3.5],[12.5,-2.5],[13,-3],[13.5,-2],[14,-1],[14.5,0.5],[15,1],[15.5,0],[16,-0.5],[16.5,-1.5],[17,-2],[17.5,-3],[18,-2],[18.5,-1],[19,-2],[19.5,-1.5],[20,-2.5],[20.5,-3],[21,-2],[21.5,-1],[22,-0.5],[22.5,0.5],[23,1],[23.5,0],[23.96,-0.5]];
const s46 = [[0,0],[0.5,-0.5],[1,0.5],[1.5,1],[2,0.5],[2.5,1.5],[3,2.5],[3.5,2],[4,3],[4.5,4],[5,3.5],[5.5,4.5],[6,5.5],[6.5,5],[7,6],[7.5,7],[8,6.5],[8.5,8],[9,9],[9.5,8.5],[10,8],[10.5,7],[11,7.5],[11.5,6.5],[12,6],[12.5,5],[13,4.5],[13.5,3.5],[14,3],[14.5,2],[15,1.5],[15.5,0.5],[16,1],[16.5,0],[17,-1],[17.5,-0.5],[18,-1.5],[18.5,-1],[19,0],[19.5,-0.5],[20,0.5],[20.5,1],[21,0],[21.5,-1],[22,-0.5],[22.5,-1.5],[23,-1],[23.5,-2],[23.96,-1.5]];

const seriesData = [s17,s21,s05,s23,s26,s29,s31,s34,s37,
                    s18,s22,s06,s24,s27,s30,s32,s35,s15,
                    s19,s38,s07,s25,s28,s09,s33,s36,s16,
                    s39,s40,s41,s42,s43,s44,s45,s46,
                    s20,s04,s14,s13,s02,s08,s12,s01,
                    s11,s10,s03];

// ---------- styles (kept apart from the data) ----------
const palette = {
  red: "#ff0000", green: "#00b000", blue: "#0000ff", magenta: "#ff50ff",
  cyan: "#40ffff", darkred: "#a80000", yellow: "#ffff00", black: "#000000",
  slateblue: "#5050ff"
};
const seriesColors = ["red","green","blue","magenta","cyan","darkred","yellow","black","slateblue",
                      "red","green","blue","magenta","cyan","darkred","yellow","black","slateblue",
                      "red","green","blue","magenta","cyan","darkred","yellow","black","slateblue",
                      "red","green","blue","magenta","cyan","darkred","yellow","black",
                      "red","green","blue","magenta","cyan","darkred","yellow","slateblue",
                      "red","green","cyan"];

const font = "'DejaVu Sans Mono', monospace";

const lineMarks = seriesData.map((data, i) =>
  Plot.line(data, {
    x: d => d[0], y: d => d[1],
    stroke: palette[seriesColors[i]], strokeWidth: 1,
    curve: "linear", shapeRendering: "crispEdges"
  })
);

const tickStyle = { stroke: "#000", strokeWidth: 1, shapeRendering: "crispEdges", label: null, tickFormat: () => "", tickSize: 6 };
const labelStyle = { tickSize: 0, tickPadding: 8, label: null, tickFormat: d => String(d), fontSize: 10, style: "letter-spacing: 0.8px" };

const chart = Plot.plot({
  width: 640, height: 480,
  marginLeft: 51, marginRight: 19, marginTop: 32, marginBottom: 34,
  style: { fontFamily: font, fontSize: "10px", background: "#fff", color: "#000", overflow: "visible", letterSpacing: "0.8px" },
  x: { domain: xDomain },
  y: { domain: yDomain },
  marks: [
    ...lineMarks,
    Plot.frame({ stroke: "#000", strokeWidth: 1, shapeRendering: "crispEdges" }),
    // inward tick marks on all four sides (outward axis ticks shifted back inside the frame)
    Plot.axisX(xTicks, { anchor: "bottom", dy: -6, ...tickStyle }),
    Plot.axisX(xTicks, { anchor: "top", dy: 6, ...tickStyle }),
    Plot.axisY(yTicks, { anchor: "left", dx: 6, ...tickStyle }),
    Plot.axisY(yTicks, { anchor: "right", dx: -6, ...tickStyle }),
    // tick labels
    Plot.axisX(xTicks, { anchor: "bottom", ...labelStyle }),
    Plot.axisY(yTicks, { anchor: "left", ...labelStyle }),
    Plot.text([chartTitle], { frameAnchor: "top", dy: -17, lineAnchor: "middle", fontSize: 10 }),
    Plot.text([xLabel], { frameAnchor: "bottom", dy: 26, lineAnchor: "middle", fontSize: 10 }),
    Plot.text([yLabel], { frameAnchor: "left", dx: -41, rotate: -90, lineAnchor: "middle", fontSize: 10 })
  ]
});
document.getElementById("chart").appendChild(chart);
</script>
</body>
</html>
